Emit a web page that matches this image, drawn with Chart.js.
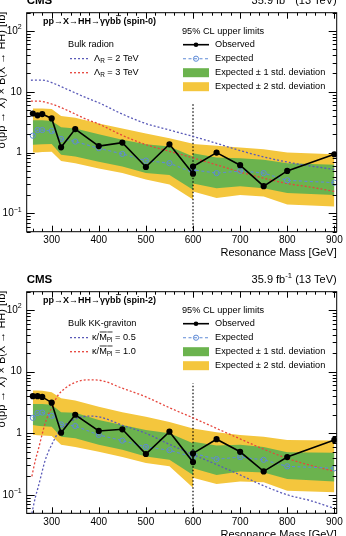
<!DOCTYPE html>
<html>
<head>
<meta charset="utf-8">
<script src="https://cdn.jsdelivr.net/npm/chart.js@4/dist/chart.umd.min.js"></script>
<style>
  html, body { margin: 0; padding: 0; background: #fff; }
  #wrap { position: relative; width: 346px; height: 536px; overflow: hidden; }
  canvas { position: absolute; left: 0; }
</style>
</head>
<body>
<div id="wrap">
  <canvas id="spin0" width="346" height="268" style="top:0"></canvas>
  <canvas id="spin2" width="346" height="268" style="top:268px"></canvas>
</div>
<script>
// mass points (two analysis regimes meet at 600 GeV)
const X_LOW = [260, 270, 280, 300, 320, 350, 400, 450, 500, 550, 600];
const X_HIGH = [600, 650, 700, 750, 800, 900];
const X_TICKS = [300, 400, 500, 600, 700, 800, 900];
const Y_TICKS = [0.1, 1, 10, 100];

// spin-0
const S0_OBS_LOW = [4.4, 4.1, 4.3, 3.65, 1.22, 2.44, 1.28, 1.46, 0.58, 1.37, 0.45];
const S0_OBS_HIGH = [0.59, 1.0, 0.62, 0.28, 0.5, 0.94];
const S0_EXP_LOW = [1.9, 2.35, 2.35, 2.27, 1.68, 1.52, 1.18, 0.95, 0.74, 0.67, 0.47];
const S0_EXP_HIGH = [0.52, 0.46, 0.5, 0.46, 0.35, 0.32];
const S0_P2_LOW = [5.3, 5.3, 5.3, 5.2, 4.0, 3.75, 3.0, 2.5, 2.07, 1.72, 1.4];
const S0_P1_LOW = [3.4, 3.4, 3.4, 3.3, 2.6, 2.5, 2.0, 1.62, 1.37, 1.26, 0.86];
const S0_M1_LOW = [1.34, 1.36, 1.37, 1.38, 0.92, 0.86, 0.71, 0.59, 0.46, 0.43, 0.245];
const S0_M2_LOW = [1.0, 1.0, 1.02, 1.03, 0.73, 0.67, 0.55, 0.46, 0.36, 0.30, 0.17];
const S0_P2_HIGH = [1.38, 1.3, 1.21, 1.14, 1.0, 0.94];
const S0_P1_HIGH = [0.98, 0.83, 0.81, 0.76, 0.67, 0.63];
const S0_M1_HIGH = [0.31, 0.26, 0.28, 0.26, 0.216, 0.2];
const S0_M2_HIGH = [0.23, 0.18, 0.2, 0.19, 0.14, 0.13];
const S0_TH_MASS = [256, 265, 275, 285, 300, 325, 350, 375, 400, 450, 500, 550, 600, 650, 700, 750, 800, 850, 900];
const S0_TH_LR2 = [15.5, 15.6, 15.6, 15.4, 14.2, 11.7, 9.6, 7.9, 6.6, 4.3, 3.0, 2.35, 1.85, 1.42, 1.08, 0.85, 0.7, 0.6, 0.53];
const S0_TH_LR3 = [7.0, 7.0, 7.0, 6.8, 6.3, 5.3, 4.3, 3.5, 2.95, 1.92, 1.35, 1.05, 0.82, 0.63, 0.48, 0.38, 0.31, 0.27, 0.23];

// spin-2
const S2_OBS_LOW = [4.0, 4.0, 3.9, 3.14, 1.02, 2.0, 1.09, 1.16, 0.46, 1.06, 0.34];
const S2_OBS_HIGH = [0.47, 0.8, 0.5, 0.24, 0.41, 0.78];
const S2_EXP_LOW = [1.78, 2.14, 2.17, 1.92, 1.39, 1.31, 0.94, 0.76, 0.6, 0.53, 0.41];
const S2_EXP_HIGH = [0.47, 0.38, 0.41, 0.37, 0.29, 0.27];
const S2_P2_LOW = [4.95, 4.95, 4.9, 4.65, 3.7, 3.4, 2.7, 2.2, 1.85, 1.53, 1.2];
const S2_P1_LOW = [3.0, 3.0, 3.0, 2.9, 2.2, 2.15, 1.64, 1.36, 1.13, 1.0, 0.69];
const S2_M1_LOW = [1.36, 1.33, 1.3, 1.27, 0.88, 0.83, 0.65, 0.54, 0.42, 0.37, 0.21];
const S2_M2_LOW = [0.95, 0.93, 0.92, 0.9, 0.65, 0.6, 0.5, 0.41, 0.33, 0.29, 0.13];
const S2_P2_HIGH = [1.2, 1.04, 0.94, 0.88, 0.78, 0.76];
const S2_P1_HIGH = [0.73, 0.63, 0.65, 0.6, 0.49, 0.48];
const S2_M1_HIGH = [0.27, 0.21, 0.24, 0.23, 0.18, 0.165];
const S2_M2_HIGH = [0.19, 0.15, 0.165, 0.16, 0.116, 0.11];
const S2_TH_MASS = [258, 262, 266, 271, 278, 285, 293, 300, 313, 330, 350, 377, 400, 450, 500, 550, 600, 650, 700, 750, 800, 850, 900];
const S2_TH_K05 = [0.05, 0.07, 0.095, 0.13, 0.21, 0.34, 0.5, 0.65, 1.0, 1.4, 1.7, 1.9, 1.85, 1.35, 1.0, 0.66, 0.45, 0.31, 0.21, 0.14, 0.1, 0.08, 0.06];
const S2_TH_K10 = [0.2, 0.28, 0.38, 0.52, 0.85, 1.36, 2.0, 2.6, 4.1, 5.5, 6.7, 7.4, 7.3, 5.4, 3.9, 2.6, 1.78, 1.2, 0.81, 0.55, 0.39, 0.3, 0.24];

const DIVIDER = [0.05, 6.5];

const FONT = "'Liberation Sans', Arial, Helvetica, sans-serif";
const YELLOW = '#f4c63d';
const GREEN = '#6bb34e';
const EXP_BLUE = '#5f8bd6';
const TH_BLUE = '#5a5ab8';
const TH_RED = '#e6453c';

function pts(xs, ys) {
  return xs.map((x, i) => ({ x: x, y: ys[i] }));
}

// text with simple sub/sup/overline parts
function partWidth(ctx, p, size, bold) {
  const s = (p.sub || p.sup) ? size * 0.7 : size;
  ctx.font = (bold ? 'bold ' : '') + s + 'px ' + FONT;
  return ctx.measureText(p.t).width;
}
function drawRich(ctx, x, y, parts, size, bold, align) {
  let w = 0;
  parts.forEach(p => { w += partWidth(ctx, p, size, bold); });
  let cx = align === 'right' ? x - w : x;
  ctx.textBaseline = 'middle';
  ctx.textAlign = 'left';
  ctx.fillStyle = '#000';
  parts.forEach(p => {
    const pw = partWidth(ctx, p, size, bold);
    let dy = 0;
    if (p.sub) dy = size * 0.3;
    if (p.sup) dy = -size * 0.38;
    ctx.fillText(p.t, cx, y + dy);
    if (p.over) {
      ctx.save();
      ctx.strokeStyle = '#000';
      ctx.lineWidth = 0.8;
      ctx.beginPath();
      ctx.moveTo(cx + 0.5, y - size * 0.62);
      ctx.lineTo(cx + pw + (p.overExtra || 0), y - size * 0.62);
      ctx.stroke();
      ctx.restore();
    }
    cx += pw;
  });
}

function makePanel(id, cfg) {
  const ds = [
    { data: pts(X_LOW, cfg.obsLow).concat(pts(X_HIGH, cfg.obsHigh)), borderColor: '#000', borderWidth: 1.6,
      pointRadius: 2.3, pointBackgroundColor: '#000', pointBorderColor: '#000', order: 0, fill: false },
    { data: pts(X_LOW, cfg.expLow).concat(pts(X_HIGH, cfg.expHigh)), borderColor: EXP_BLUE, borderWidth: 1.1,
      borderDash: [3, 2.5], pointRadius: 2.6, pointBorderWidth: 1, pointBorderColor: EXP_BLUE,
      pointBackgroundColor: 'rgba(0,0,0,0)', order: 1, fill: false },
    { data: pts(cfg.thMass, cfg.thBlue), borderColor: TH_BLUE, borderWidth: 1.3, borderDash: [2, 2],
      pointRadius: 0, cubicInterpolationMode: 'monotone', order: 2, fill: false },
    { data: pts(cfg.thMass, cfg.thRed), borderColor: TH_RED, borderWidth: 1.3, borderDash: [2, 2],
      pointRadius: 0, cubicInterpolationMode: 'monotone', order: 2, fill: false },
    { data: [{ x: 600, y: DIVIDER[0] }, { x: 600, y: DIVIDER[1] }], borderColor: '#000', borderWidth: 1.2,
      borderDash: [1.5, 2], pointRadius: 0, order: 3, fill: false },
    { data: pts(X_LOW, cfg.p1Low), borderWidth: 0, pointRadius: 0, backgroundColor: GREEN, fill: 6, order: 4 },
    { data: pts(X_LOW, cfg.m1Low), borderWidth: 0, pointRadius: 0, fill: false, order: 4 },
    { data: pts(X_HIGH, cfg.p1High), borderWidth: 0, pointRadius: 0, backgroundColor: GREEN, fill: 8, order: 4 },
    { data: pts(X_HIGH, cfg.m1High), borderWidth: 0, pointRadius: 0, fill: false, order: 4 },
    { data: pts(X_LOW, cfg.p2Low), borderWidth: 0, pointRadius: 0, backgroundColor: YELLOW, fill: 10, order: 5 },
    { data: pts(X_LOW, cfg.m2Low), borderWidth: 0, pointRadius: 0, fill: false, order: 5 },
    { data: pts(X_HIGH, cfg.p2High), borderWidth: 0, pointRadius: 0, backgroundColor: YELLOW, fill: 12, order: 5 },
    { data: pts(X_HIGH, cfg.m2High), borderWidth: 0, pointRadius: 0, fill: false, order: 5 }
  ];

  const decor = {
    id: 'decor',
    afterDraw(chart) {
      const ctx = chart.ctx;
      const a = chart.chartArea;
      const xs = chart.scales.x, ys = chart.scales.y;
      ctx.save();
      // frame
      ctx.strokeStyle = '#000';
      ctx.lineWidth = 1;
      ctx.strokeRect(a.left, a.top, a.right - a.left, a.bottom - a.top);
      // inward ticks, x
      ctx.beginPath();
      for (let m = 260; m <= 900; m += 20) {
        const px = Math.round(xs.getPixelForValue(m)) + 0.5;
        const len = m % 100 === 0 ? 6 : 3;
        ctx.moveTo(px, a.bottom); ctx.lineTo(px, a.bottom - len);
        ctx.moveTo(px, a.top); ctx.lineTo(px, a.top + len);
      }
      // inward ticks, y (log)
      for (let e = -2; e <= 2; e++) {
        for (let k = 1; k <= 9; k++) {
          const v = k * Math.pow(10, e);
          if (v < 0.05 || v > 200) continue;
          const py = Math.round(ys.getPixelForValue(v)) + 0.5;
          const len = k === 1 ? 8 : 4;
          ctx.moveTo(a.left, py); ctx.lineTo(a.left + len, py);
          ctx.moveTo(a.right, py); ctx.lineTo(a.right - len, py);
        }
      }
      ctx.stroke();

      // y tick labels
      const yl = a.left - 5;
      Y_TICKS.forEach(v => {
        const py = ys.getPixelForValue(v);
        let parts;
        if (v === 0.1) parts = [{ t: '10' }, { t: '\u22121', sup: true }];
        else if (v === 1) parts = [{ t: '1' }];
        else if (v === 10) parts = [{ t: '10' }];
        else parts = [{ t: '10' }, { t: '2', sup: true }];
        drawRich(ctx, yl, py, parts, 10, false, 'right');
      });

      // axis titles
      drawRich(ctx, a.right, a.bottom + 21.5, [{ t: 'Resonance Mass [GeV]' }], 11, false, 'right');
      ctx.save();
      ctx.translate(4.5, a.top - 1);
      ctx.rotate(-Math.PI / 2);
      ctx.font = '11px ' + FONT;
      ctx.textAlign = 'right';
      ctx.textBaseline = 'alphabetic';
      ctx.fillStyle = '#000';
      ctx.fillText('\u03c3(pp \u2192 X) \u00d7 B(X \u2192 HH) [fb]', 0, 0);
      ctx.restore();

      // header
      drawRich(ctx, a.left, a.top - 11.7, [{ t: 'CMS' }], 11.5, true, 'left');
      drawRich(ctx, a.right, a.top - 11.7,
        [{ t: '35.9 fb' }, { t: '-1', sup: true }, { t: ' (13 TeV)' }], 11, false, 'right');

      // process label
      const t = a.top;
      drawRich(ctx, 43, t + 8.5,
        [{ t: 'pp\u2192X\u2192HH\u2192\u03b3\u03b3b' }, { t: 'b', over: true }, { t: ' (' + cfg.spin + ')' }], 9, true, 'left');

      // limits legend
      const lx0 = 183, lx1 = 209, tx = 215;
      drawRich(ctx, 182, t + 18.5, [{ t: '95% CL upper limits' }], 9.2, false, 'left');
      ctx.strokeStyle = '#000'; ctx.lineWidth = 1.6; ctx.setLineDash([]);
      ctx.beginPath(); ctx.moveTo(lx0, t + 32); ctx.lineTo(lx1, t + 32); ctx.stroke();
      ctx.fillStyle = '#000';
      ctx.beginPath(); ctx.arc((lx0 + lx1) / 2, t + 32, 2.3, 0, Math.PI * 2); ctx.fill();
      drawRich(ctx, tx, t + 32, [{ t: 'Observed' }], 9.2, false, 'left');
      ctx.strokeStyle = EXP_BLUE; ctx.lineWidth = 1.1; ctx.setLineDash([3, 2.5]);
      ctx.beginPath(); ctx.moveTo(lx0, t + 46); ctx.lineTo(lx1, t + 46); ctx.stroke();
      ctx.setLineDash([]); ctx.lineWidth = 1;
      ctx.beginPath(); ctx.arc((lx0 + lx1) / 2, t + 46, 2.6, 0, Math.PI * 2); ctx.stroke();
      drawRich(ctx, tx, t + 46, [{ t: 'Expected' }], 9.2, false, 'left');
      ctx.fillStyle = GREEN; ctx.fillRect(lx0, t + 55.5, lx1 - lx0, 9);
      drawRich(ctx, tx, t + 60, [{ t: 'Expected \u00b1 1 std. deviation' }], 9.2, false, 'left');
      ctx.fillStyle = YELLOW; ctx.fillRect(lx0, t + 69.5, lx1 - lx0, 9);
      drawRich(ctx, tx, t + 74, [{ t: 'Expected \u00b1 2 std. deviation' }], 9.2, false, 'left');

      // theory legend
      drawRich(ctx, 68, t + 32, [{ t: cfg.model }], 9.2, false, 'left');
      ctx.lineWidth = 1.3; ctx.setLineDash([2, 2]);
      ctx.strokeStyle = TH_BLUE;
      ctx.beginPath(); ctx.moveTo(70, t + 46); ctx.lineTo(90, t + 46); ctx.stroke();
      ctx.strokeStyle = TH_RED;
      ctx.beginPath(); ctx.moveTo(70, t + 60); ctx.lineTo(90, t + 60); ctx.stroke();
      ctx.setLineDash([]);
      drawRich(ctx, cfg.thTextX, t + 46, cfg.thLabels[0], 9.2, false, 'left');
      drawRich(ctx, cfg.thTextX, t + 60, cfg.thLabels[1], 9.2, false, 'left');
      ctx.restore();
    }
  };

  return new Chart(document.getElementById(id), {
    type: 'line',
    data: { datasets: ds },
    plugins: [decor],
    options: {
      responsive: false,
      animation: false,
      layout: { padding: { top: cfg.top, right: 9.3, left: 0, bottom: 0 } },
      plugins: { legend: { display: false }, tooltip: { enabled: false } },
      elements: { line: { tension: 0 } },
      scales: {
        x: {
          type: 'linear', min: 247, max: 905,
          afterFit(s) { s.height = cfg.xh; },
          afterBuildTicks(s) { s.ticks = X_TICKS.map(v => ({ value: v })); },
          grid: { display: false, drawTicks: false },
          border: { display: false },
          ticks: { color: '#000', font: { family: FONT, size: 10 }, padding: 3, maxRotation: 0, autoSkip: false }
        },
        y: {
          type: 'logarithmic', min: 0.05, max: 200,
          afterFit(s) { s.width = 26.7; },
          grid: { display: false, drawTicks: false },
          border: { display: false },
          ticks: { display: false }
        }
      }
    }
  });
}

const LR = n => [{ t: '\u039b' }, { t: 'R', sub: true }, { t: ' = ' + n + ' TeV' }];
const KAPPA = n => [{ t: '\u03ba/' }, { t: 'M', over: true }, { t: 'Pl', sub: true, over: true }, { t: ' = ' + n }];

makePanel('spin0', {
  top: 12.7, xh: 36.3, spin: 'spin-0', model: 'Bulk radion', thTextX: 94,
  thLabels: [LR(2), LR(3)],
  obsLow: S0_OBS_LOW, obsHigh: S0_OBS_HIGH, expLow: S0_EXP_LOW, expHigh: S0_EXP_HIGH,
  p2Low: S0_P2_LOW, p1Low: S0_P1_LOW, m1Low: S0_M1_LOW, m2Low: S0_M2_LOW,
  p2High: S0_P2_HIGH, p1High: S0_P1_HIGH, m1High: S0_M1_HIGH, m2High: S0_M2_HIGH,
  thMass: S0_TH_MASS, thBlue: S0_TH_LR2, thRed: S0_TH_LR3
});

makePanel('spin2', {
  top: 23.7, xh: 22.7, spin: 'spin-2', model: 'Bulk KK-graviton', thTextX: 92,
  thLabels: [KAPPA('0.5'), KAPPA('1.0')],
  obsLow: S2_OBS_LOW, obsHigh: S2_OBS_HIGH, expLow: S2_EXP_LOW, expHigh: S2_EXP_HIGH,
  p2Low: S2_P2_LOW, p1Low: S2_P1_LOW, m1Low: S2_M1_LOW, m2Low: S2_M2_LOW,
  p2High: S2_P2_HIGH, p1High: S2_P1_HIGH, m1High: S2_M1_HIGH, m2High: S2_M2_HIGH,
  thMass: S2_TH_MASS, thBlue: S2_TH_K05, thRed: S2_TH_K10
});
</script>
</body>
</html>
